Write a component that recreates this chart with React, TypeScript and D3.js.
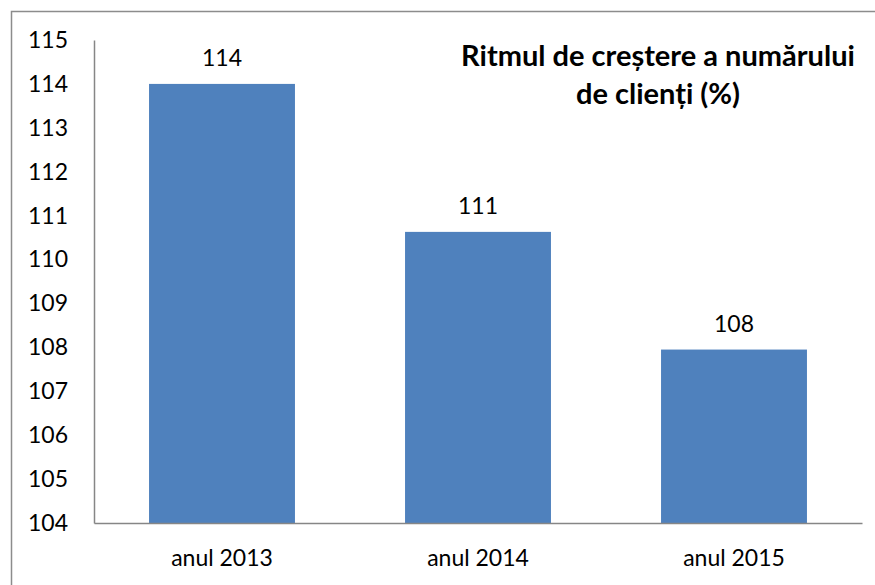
import { useEffect, useRef } from 'react'
import * as d3 from 'd3'

// data
const categories = ['anul 2013', 'anul 2014', 'anul 2015']
const values = [114, 110.63, 107.95]
const valueLabels = ['114', '111', '108']
const yTicks = [104, 105, 106, 107, 108, 109, 110, 111, 112, 113, 114, 115]
const titleLines = ['Ritmul de creștere a numărului', 'de clienți (%)']

export default function App() {
  const svgRef = useRef<SVGSVGElement | null>(null)

  useEffect(() => {
    const width = 875
    const height = 585
    const marginLeft = 94
    const marginRight = 13
    const marginTop = 40
    const marginBottom = 62
    const font = 'Lato, "Open Sans", sans-serif'

    const svg = d3.select(svgRef.current)
    svg.selectAll('*').remove()
    svg.attr('width', width).attr('height', height)

    // outer frame (right and bottom edges run off the picture)
    svg.append('rect')
      .attr('x', 11.5).attr('y', 11.5)
      .attr('width', 900).attr('height', 700)
      .attr('fill', 'white')
      .attr('stroke', '#8c8c8c')
      .attr('stroke-width', 1.5)

    const x = d3.scaleBand()
      .domain(categories)
      .range([marginLeft, width - marginRight])
      .paddingInner(0.43)
      .paddingOuter(0.215)

    const y = d3.scaleLinear()
      .domain([104, 115])
      .range([height - marginBottom, marginTop])

    const data = categories.map((c, i) => ({ key: c, value: values[i], label: valueLabels[i] }))

    // bars
    svg.append('g')
      .selectAll('rect')
      .data(data)
      .join('rect')
      .attr('x', (d) => x(d.key)!)
      .attr('y', (d) => y(d.value))
      .attr('width', x.bandwidth())
      .attr('height', (d) => y(104) - y(d.value))
      .attr('fill', '#4f81bd')

    // value labels
    svg.append('g')
      .selectAll('text')
      .data(data)
      .join('text')
      .attr('x', (d) => x(d.key)! + x.bandwidth() / 2)
      .attr('y', (d) => y(d.value) - 18)
      .attr('text-anchor', 'middle')
      .style('font-family', font)
      .style('font-size', '23px')
      .style('fill', '#000')
      .text((d) => d.label)

    // y axis (no ticks, just labels)
    const yAxis = svg.append('g')
      .attr('transform', `translate(${marginLeft},0)`)
      .call(d3.axisLeft(y).tickValues(yTicks).tickSize(0).tickPadding(26).tickFormat(d3.format('d')))
    yAxis.select('.domain').attr('stroke', '#868686').attr('stroke-width', 1.5)
    yAxis.selectAll('text')
      .style('font-family', font)
      .style('font-size', '23px')
      .style('fill', '#000')

    // x axis
    const xAxis = svg.append('g')
      .attr('transform', `translate(0,${height - marginBottom})`)
      .call(d3.axisBottom(x).tickSize(0).tickPadding(27).tickSizeOuter(0))
    xAxis.select('.domain').attr('stroke', '#868686').attr('stroke-width', 1.5)
    xAxis.selectAll('text')
      .style('font-family', font)
      .style('font-size', '23px')
      .style('fill', '#000')

    // title
    svg.append('text')
      .attr('x', 658)
      .attr('y', 66)
      .attr('text-anchor', 'middle')
      .style('font-family', font)
      .style('font-weight', 'bold')
      .style('font-size', '29px')
      .style('fill', '#000')
      .selectAll('tspan')
      .data(titleLines)
      .join('tspan')
      .attr('x', 658)
      .attr('dy', (_d, i) => (i === 0 ? 0 : 38))
      .text((d) => d)
  }, [])

  return (
    <svg ref={svgRef} style={{ position: 'absolute', left: 0, top: 0, display: 'block' }}></svg>
  )
}
